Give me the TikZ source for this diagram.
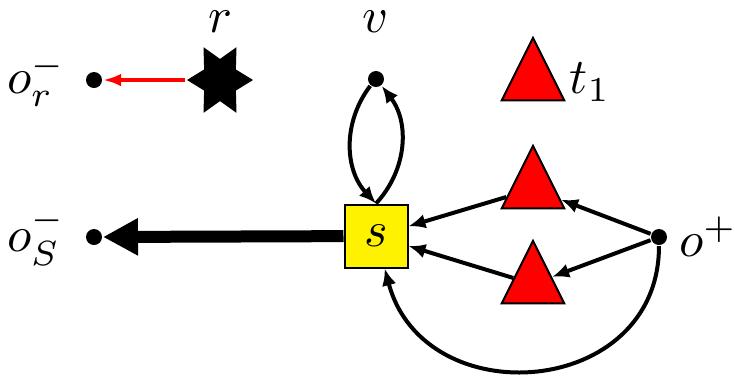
\documentclass[tikz,border=0pt]{standalone}
\usetikzlibrary{shapes.geometric,arrows.meta}
\begin{document}
\begin{tikzpicture}[x=0.2pt,y=-0.2pt,
 dot/.style={circle,fill=black,inner sep=0pt,minimum size=3.2pt},
 tri/.style={isosceles triangle, shape border rotate=90, isosceles triangle stretches,
   draw=black, fill=red, line width=0.4pt, inner sep=0pt, minimum width=12.5pt, minimum height=12.5pt},
 sq/.style={rectangle, draw=black, fill=yellow, line width=0.4pt, inner sep=0pt, minimum size=12.6pt},
 starn/.style={star, star points=6, star point ratio=1.8, shape border rotate=30,
   fill=black, inner sep=0pt, minimum size=13.2pt, yscale=1.15},
 lbl/.style={inner sep=0pt},
 arr/.style={line width=0.8pt,-{Latex[length=3.4pt,width=2.9pt]}},
]
\useasboundingbox (0,0) rectangle (735,378);
\node[dot] (or) at (94,80) {};
\node[starn] (r) at (220,80) {};
\node[dot] (v) at (376,79) {};
\node[sq] (s) at (376,236) {$s$};
\node[dot] (oS) at (94,237) {};
\node[dot] (op) at (659,237) {};
\node[tri] (t1) at (533,81) {};
\node[tri] (ta) at (533,189) {};
\node[tri] (tb) at (533,284) {};
\node[lbl] (lor) at (36,80) {$o_r^-$};
\node[lbl] (loS) at (36,237) {$o_S^-$};
\node[lbl] (lr) at (220,22) {$r$};
\node[lbl] (lv) at (376,22) {$v$};
\node[lbl] (lt1) at (590,82) {$t_1$};
\node[lbl] (lop) at (708,237) {$o^+$};
\draw[red, line width=0.7pt, -{Latex[length=3.6pt,width=2.5pt]}] (r) -- (or);
\draw[line width=2.4pt, -{Triangle[length=7pt,width=7pt]}] (s) -- (oS);
\draw[arr] (s.north) to[bend right=40] (v);
\draw[arr] (v) to[bend right=40] (s.north);
\draw[arr] (op) -- (ta);
\draw[arr] (op) -- (tb);
\draw[arr] (ta) -- (s);
\draw[arr] (tb) -- (s);
\draw[arr] (op) to[out=-90,in=-75,looseness=1.42] (s);
\end{tikzpicture}
\end{document}
